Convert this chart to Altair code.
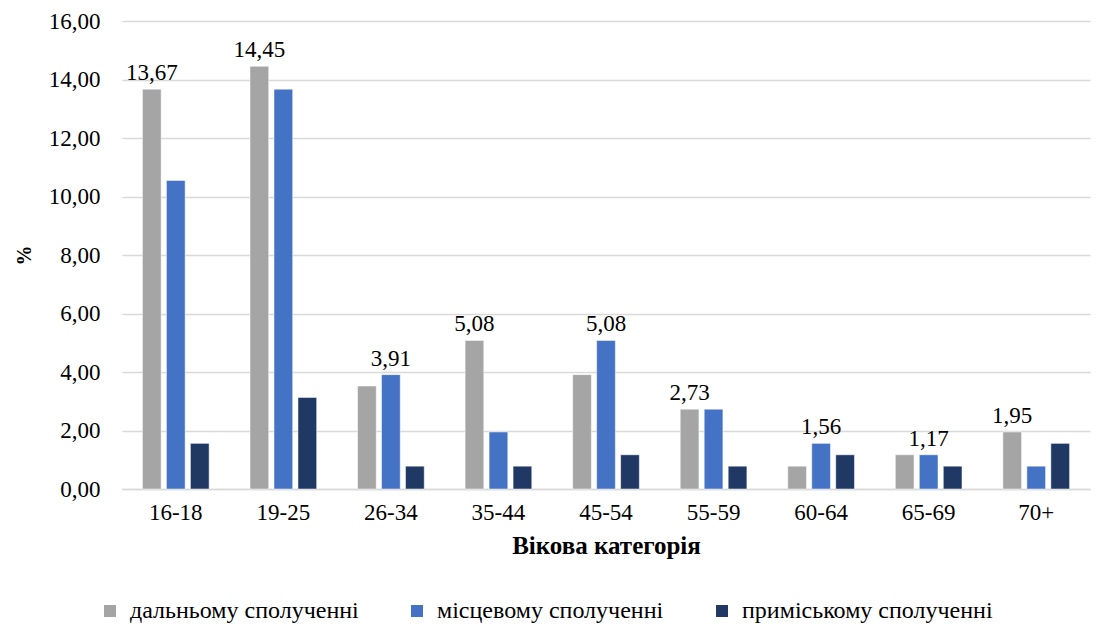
import altair as alt
import pandas as pd

categories = ["16-18", "19-25", "26-34", "35-44", "45-54", "55-59", "60-64", "65-69", "70+"]
series = ["дальньому сполученні", "місцевому сполученні", "приміському сполученні"]
long_distance = [13.67, 14.45, 3.52, 5.08, 3.91, 2.73, 0.78, 1.17, 1.95]
local = [10.55, 13.67, 3.91, 1.95, 5.08, 2.73, 1.56, 1.17, 0.78]
suburban = [1.56, 3.13, 0.78, 0.78, 1.17, 0.78, 1.17, 0.78, 1.56]
# which series carries the value label in each group
label_series = [0, 0, 1, 0, 1, 0, 1, 1, 0]
colors = ["#A5A5A5", "#4472C4", "#203864"]

rows = []
for i, c in enumerate(categories):
    for j, (s, vals) in enumerate(zip(series, [long_distance, local, suburban])):
        v = vals[i]
        rows.append({
            "cat": c, "series": s, "value": v,
            "label": (f"{v:.2f}".replace(".", ",") if label_series[i] == j else ""),
        })
df = pd.DataFrame(rows)

FONT = "Liberation Serif"

x = alt.X("cat:N", sort=categories, title="Вікова категорія",
          scale=alt.Scale(paddingInner=0.38, paddingOuter=0.19),
          axis=alt.Axis(labelAngle=0, labelPadding=12, ticks=False,
                        domainColor="#D9D9D9", domainWidth=1.5, grid=False,
                        titleFontSize=25, titleFontWeight="bold", titlePadding=9))
xo = alt.XOffset("series:N", sort=series, scale=alt.Scale(paddingInner=0.22))
y = alt.Y("value:Q", title="%", scale=alt.Scale(domain=[0, 16]),
          axis=alt.Axis(values=[0, 2, 4, 6, 8, 10, 12, 14, 16],
                        labelExpr="replace(format(datum.value, '.2f'), '.', ',')",
                        labelPadding=22, ticks=False, domain=False,
                        gridColor="#D9D9D9", gridWidth=1.5,
                        titleFontSize=20, titleFontWeight="bold", titlePadding=14))

base = alt.Chart(df).encode(x=x, xOffset=xo, y=y)

bars = base.mark_bar(stroke="white", strokeWidth=0.5).encode(
    color=alt.Color("series:N", sort=series, title=None,
                    scale=alt.Scale(domain=series, range=colors),
                    legend=alt.Legend(orient="none", legendX=-24, legendY=578,
                                      direction="horizontal",
                                      symbolType="square", symbolSize=144, symbolStrokeWidth=0,
                                      labelFont=FONT, labelFontSize=24,
                                      labelColor="#000", columnPadding=46, labelLimit=400,
                                      symbolOffset=0, labelOffset=8))
)
text = base.mark_text(dy=-16, font=FONT, fontSize=23, color="#000").encode(
    text="label:N"
)

chart = alt.layer(bars, text).properties(
    width=968, height=468, background="white",
    padding={"left": 6, "top": 2, "right": 5, "bottom": 0}
).configure_view(stroke=None).configure_axis(
    labelFont=FONT, titleFont=FONT, labelFontSize=23, labelColor="#000", titleColor="#000"
)

chart.save("out.html", embed_options={"renderer": "svg", "actions": False})
